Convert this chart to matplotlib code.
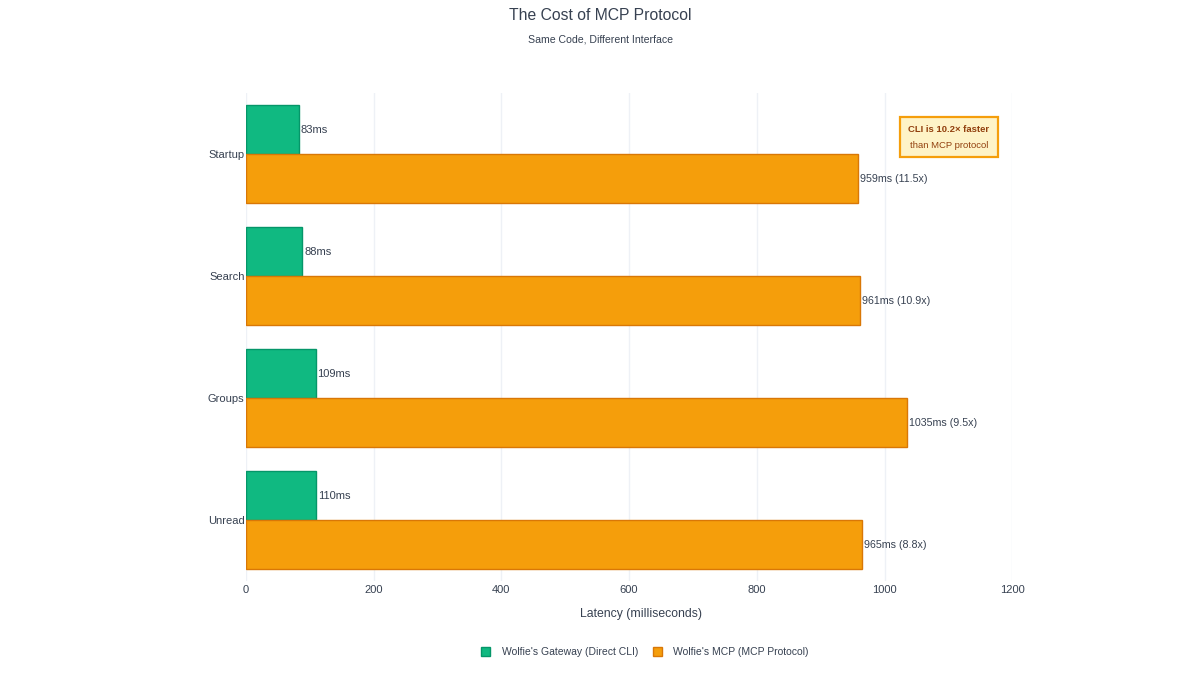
import numpy as np
import matplotlib
matplotlib.use("Agg")
import matplotlib.pyplot as plt
from matplotlib.patches import Patch, Rectangle

plt.rcParams['font.family'] = ['Liberation Sans', 'DejaVu Sans']

# data
tasks = ["Startup", "Search", "Groups", "Unread"]
cli_ms = [83, 88, 109, 110]
mcp_ms = [959, 961, 1035, 965]
ratios = ["11.5x", "10.9x", "9.5x", "8.8x"]
tick_vals = [0, 200, 400, 600, 800, 1000, 1200]

text_col = "#374151"
green, green_edge = "#10b981", "#059669"
orange, orange_edge = "#f59e0b", "#d97706"

fig = plt.figure(figsize=(12, 6.75), dpi=100)
ax = fig.add_axes([0.205, 0.139, 0.6385, 0.723])

y = np.arange(len(tasks))
w = 0.4
ax.barh(y - w / 2, cli_ms, height=w, color=green, edgecolor=green_edge,
        linewidth=1, zorder=3)
ax.barh(y + w / 2, mcp_ms, height=w, color=orange, edgecolor=orange_edge,
        linewidth=1, zorder=3)

for i in range(len(tasks)):
    ax.text(cli_ms[i] + 3, y[i] - w / 2, f"{cli_ms[i]}ms", va="center",
            ha="left", fontsize=8, color=text_col)
    ax.text(mcp_ms[i] + 3, y[i] + w / 2, f"{mcp_ms[i]}ms ({ratios[i]})",
            va="center", ha="left", fontsize=7.7, color=text_col)

ax.set_ylim(len(tasks) - 0.5, -0.5)
ax.set_xlim(0, 1200)
ax.set_yticks(y)
ax.set_yticklabels(tasks)
ax.set_xticks(tick_vals)
ax.tick_params(axis="both", length=0, labelsize=8, colors=text_col, pad=1)
ax.tick_params(axis="x", pad=3)
ax.grid(axis="x", color="#eef1f6", linewidth=1, zorder=0)
for s in ax.spines.values():
    s.set_visible(False)
ax.set_xlabel("Latency (milliseconds)", fontsize=8.8, color=text_col,
              labelpad=11)
ax.xaxis.set_label_coords(0.516, -0.055)

fig.text(0.5, 0.977, "The Cost of MCP Protocol", ha="center", va="center",
         fontsize=11.3, color=text_col)
fig.text(0.5, 0.942, "Same Code, Different Interface", ha="center",
         va="center", fontsize=7.6, color=text_col)

# annotation box
fig.patches.append(Rectangle((900 / 1200, 1 - 157 / 675), 98 / 1200,
                             40 / 675, transform=fig.transFigure,
                             facecolor="#fef3c7", edgecolor=orange,
                             linewidth=1.6))
fig.text(949 / 1200, 1 - 130 / 675, "CLI is 10.2× faster", ha="center",
         va="center", fontsize=6.8, fontweight="bold", color="#92400e")
fig.text(949 / 1200, 1 - 145 / 675, "than MCP protocol", ha="center",
         va="center", fontsize=6.8, color="#92400e")

handles = [Patch(facecolor=green, edgecolor=green_edge,
                 label="Wolfie's Gateway (Direct CLI)"),
           Patch(facecolor=orange, edgecolor=orange_edge,
                 label="Wolfie's MCP (MCP Protocol)")]
fig.legend(handles=handles, loc="center", bbox_to_anchor=(0.5375, 0.034),
           ncol=2, frameon=False, fontsize=7.5, labelcolor=text_col,
           handlelength=0.85, handleheight=0.85, columnspacing=1.4,
           handletextpad=1.1)

fig.savefig("out.png", dpi=100, facecolor="white")
